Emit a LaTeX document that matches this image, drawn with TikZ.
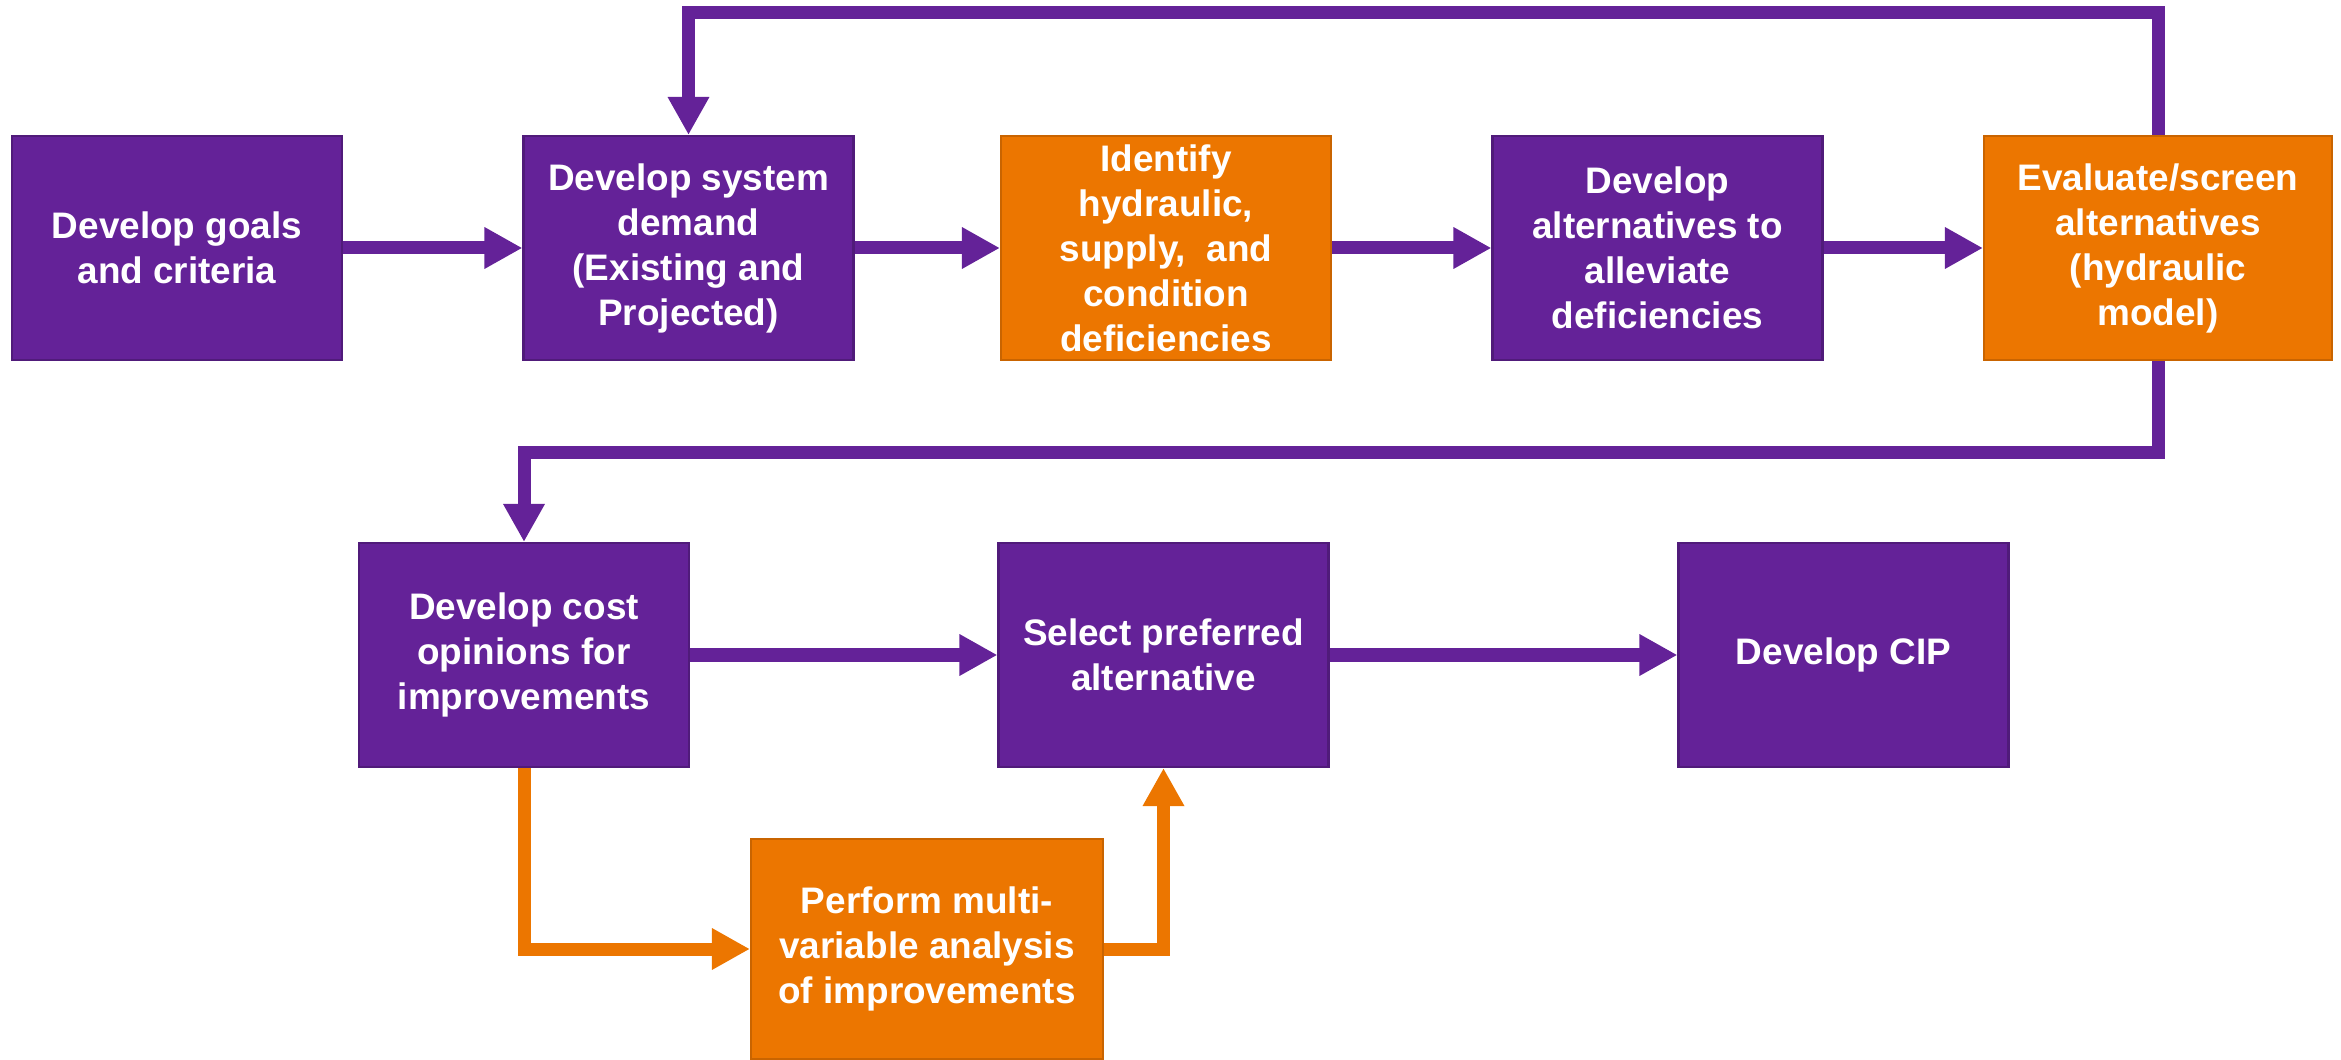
\documentclass[tikz,border=0pt]{standalone}
\usepackage{fontspec}
\setmainfont{Liberation Sans}
\usepackage{tikz}
\usetikzlibrary{arrows.meta}
\definecolor{cipPurple}{RGB}{100,34,152}
\definecolor{cipOrange}{RGB}{236,118,0}

\begin{document}
\begin{tikzpicture}[
    font=\fontsize{10.5}{12.8}\selectfont\bfseries,
    purplebox/.style={draw=cipPurple!80!black, line width=0.6pt, fill=cipPurple,
      text=white, align=center, minimum width=3.3cm, minimum height=2.24cm, inner sep=0pt},
    orangebox/.style={purplebox, draw=cipOrange!85!black, fill=cipOrange},
    purpleflow/.style={draw=cipPurple, line width=0.13cm,
      -{Triangle[length=0.38cm,width=0.39cm]}},
    orangeflow/.style={purpleflow, draw=cipOrange}
  ]
    \useasboundingbox (0,0) rectangle (23.41,10.59);

        % Top row
        \node[purplebox] (goals) at (1.77,8.11) {Develop goals\\and criteria};
        \node[purplebox] (demand) at (6.885,8.11) {Develop system\\demand\\(Existing and\\Projected)};
        \node[orangebox] (identify) at (11.66,8.11) {Identify\\hydraulic,\\supply,~~and\\condition\\deficiencies};
        \node[purplebox] (alts) at (16.575,8.11) {Develop\\alternatives to\\alleviate\\deficiencies};
        \node[orangebox, minimum width=3.48cm] (eval) at (21.58,8.11) {Evaluate/screen\\alternatives\\(hydraulic\\model)};

        % Bottom row
        \node[purplebox] (cost) at (5.24,4.04) {Develop cost\\opinions for\\improvements};
        \node[purplebox] (select) at (11.635,4.04) {Select preferred\\alternative};
        \node[purplebox] (cip) at (18.435,4.04) {Develop CIP};
        \node[orangebox, minimum width=3.52cm, minimum height=2.2cm] (multi) at (9.27,1.10) {Perform multi-\\variable analysis\\of improvements};

        % Flow arrows
        \draw[purpleflow] (goals.east) -- (demand.west);
        \draw[purpleflow] (demand.east) -- (identify.west);
        \draw[purpleflow] (identify.east) -- (alts.west);
        \draw[purpleflow] (alts.east) -- (eval.west);
        \draw[purpleflow] (eval.north) -- ++(0,1.22) -| (demand.north);
        \draw[purpleflow] (eval.south) -- ++(0,-0.91) -| (cost.north);
        \draw[purpleflow] (cost.east) -- (select.west);
        \draw[purpleflow] (select.east) -- (cip.west);

        % Multi-variable branch
        \draw[orangeflow] (cost.south) |- (multi.west);
        \draw[orangeflow] (multi.east) -| (select.south);

    \end{tikzpicture}
\end{document}
